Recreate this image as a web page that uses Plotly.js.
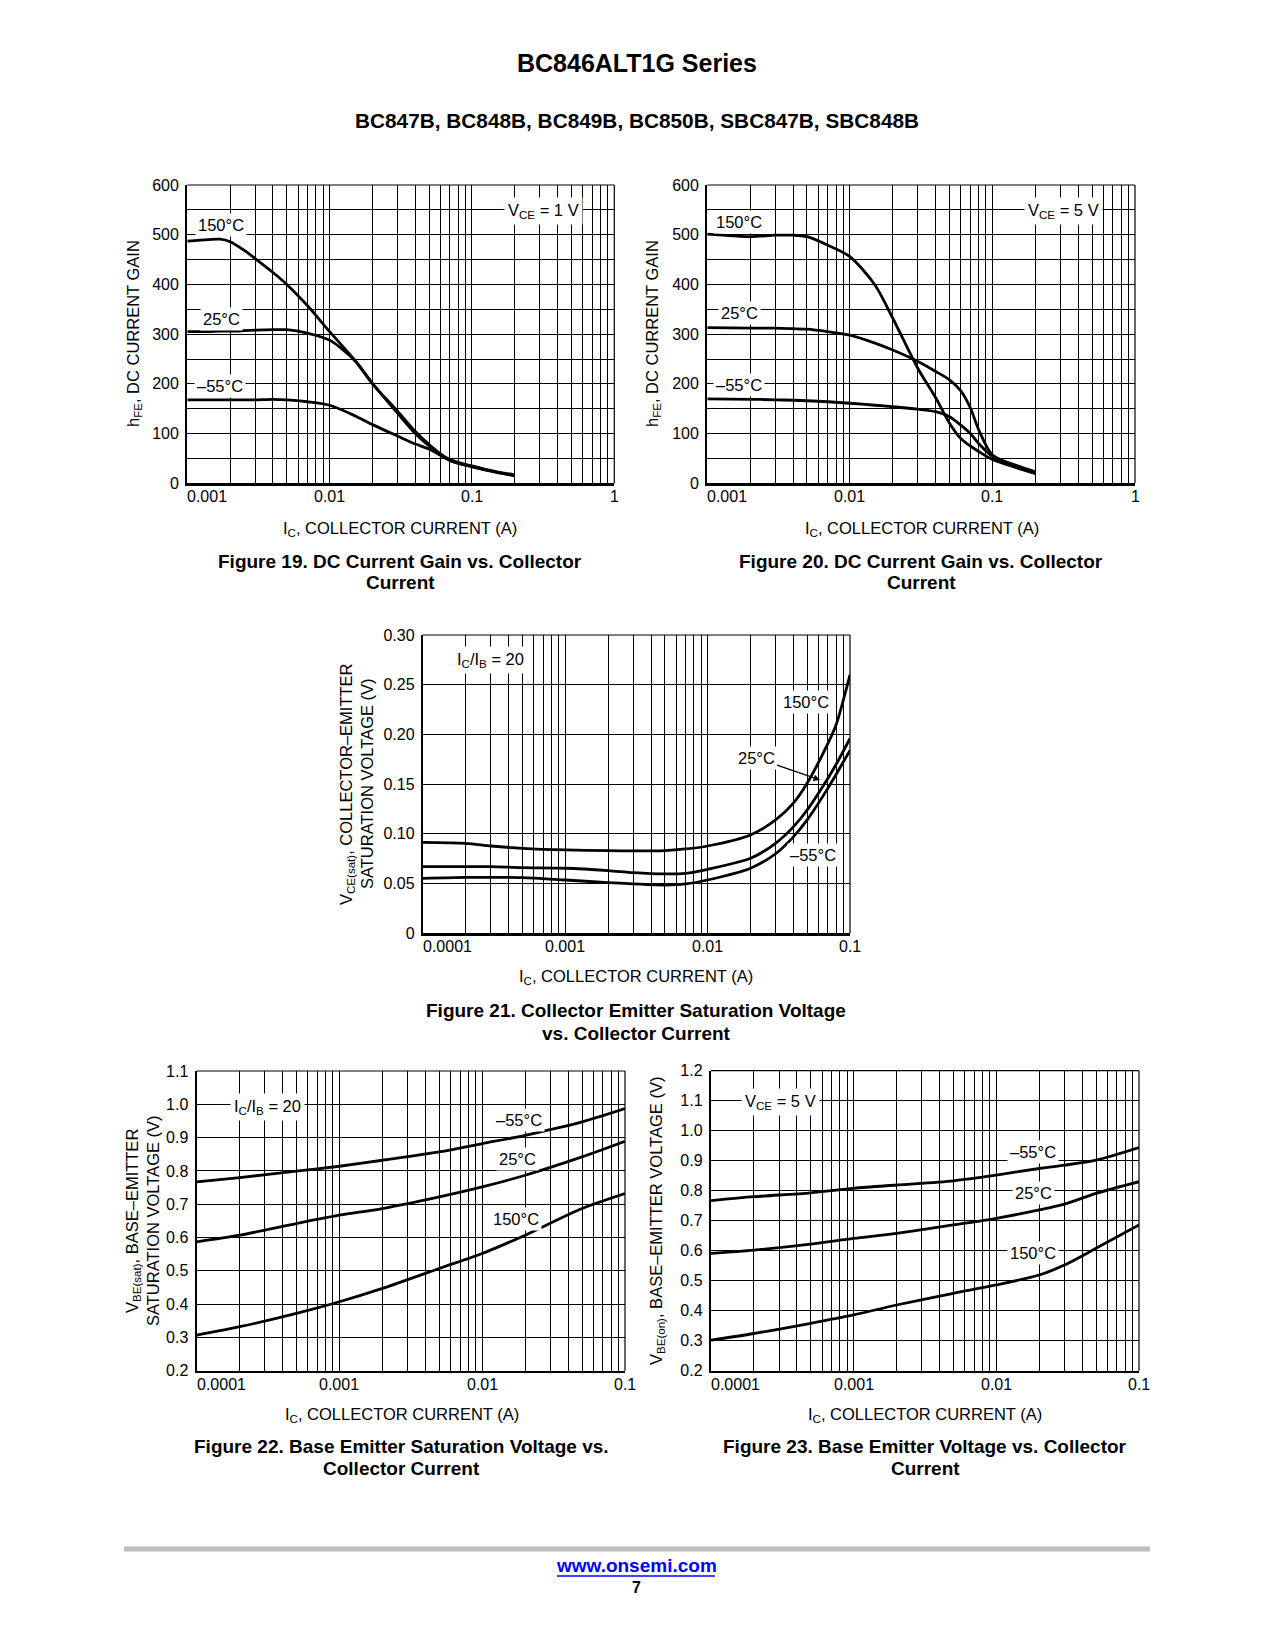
<!DOCTYPE html>
<html>
<head>
<meta charset="utf-8">
<script src="https://cdn.plot.ly/plotly-3.0.1.min.js"></script>
<style>
html,body{margin:0;padding:0;background:#fff;}
#chart{width:1275px;height:1650px;}
</style>
</head>
<body>
<div id="chart"></div>
<script>
// ---------------- DATA ----------------
// Figure 19: hFE vs IC, VCE = 1 V
const fig19_ic = [0.001,0.0014,0.0017,0.002,0.0025,0.003,0.004,0.005,0.007,0.01,0.015,0.02,0.03,0.04,0.05,0.07,0.1,0.15,0.2];
const fig19_150C = [487,490,491,486,469,452,424,400,357,305,248,201,141,100,75,48,35,23,17];
const fig19_25C  = [305,305,306,306,307,308,309,309,302,288,247,200,145,104,78,46,34,22,15];
const fig19_m55C = [168,168,168,168,168,168,169,168,164,157,136,118,95,79,69,46,33,22,16];

// Figure 20: hFE vs IC, VCE = 5 V
const fig20_ic = [0.001,0.002,0.003,0.004,0.005,0.007,0.01,0.015,0.02,0.03,0.04,0.05,0.06,0.07,0.08,0.1,0.15,0.2];
const fig20_150C = [501,496,499,499,496,479,456,399,332,231,172,121,90,75,64,48,31,20];
const fig20_25C  = [313,312,312,311,310,305,298,282,268,245,225,208,186,152,108,57,35,23];
const fig20_m55C = [170,169,168,167,166,164,161,157,154,149,144,134,117,100,80,54,31,20];

// Figure 21: VCE(sat) vs IC, IC/IB = 20
const fig21_ic = [0.0001,0.0002,0.0003,0.0005,0.001,0.002,0.003,0.005,0.007,0.01,0.02,0.03,0.04,0.05,0.07,0.08,0.1];
const fig21_150C = [0.0915,0.0905,0.0878,0.0855,0.0838,0.0831,0.0828,0.0831,0.0848,0.0878,0.0989,0.114,0.131,0.151,0.191,0.21,0.26];
const fig21_25C  = [0.067,0.067,0.067,0.066,0.0654,0.063,0.061,0.0597,0.0603,0.0644,0.0754,0.0905,0.107,0.124,0.156,0.170,0.196];
const fig21_m55C = [0.0553,0.0563,0.0563,0.056,0.0536,0.051,0.0498,0.0486,0.0496,0.0536,0.0654,0.080,0.097,0.114,0.146,0.160,0.184];

// Figure 22: VBE(sat) vs IC, IC/IB = 20
const fig22_ic = [0.0001,0.0002,0.0005,0.001,0.002,0.005,0.01,0.02,0.05,0.1];
const fig22_m55C = [0.767,0.78,0.799,0.814,0.832,0.857,0.882,0.907,0.947,0.987];
const fig22_25C  = [0.587,0.607,0.642,0.667,0.687,0.722,0.752,0.787,0.842,0.889];
const fig22_150C = [0.307,0.332,0.372,0.407,0.447,0.507,0.552,0.607,0.687,0.732];

// Figure 23: VBE(on) vs IC, VCE = 5 V
const fig23_ic = [0.0001,0.0002,0.0005,0.001,0.002,0.005,0.01,0.02,0.03,0.05,0.1];
const fig23_m55C = [0.767,0.78,0.793,0.808,0.819,0.833,0.852,0.874,0.885,0.902,0.944];
const fig23_25C  = [0.591,0.602,0.622,0.641,0.658,0.686,0.708,0.736,0.755,0.791,0.83];
const fig23_150C = [0.302,0.324,0.358,0.386,0.419,0.458,0.486,0.519,0.552,0.608,0.686];

// Tick labels
const xTicks_1mA = [0.001,0.01,0.1,1];
const xLabels_1mA = ['0.001','0.01','0.1','1'];
const xTicks_100uA = [0.0001,0.001,0.01,0.1];
const xLabels_100uA = ['0.0001','0.001','0.01','0.1'];
const yLabels_hfe = ['0','100','200','300','400','500','600'];
const yLabels_vcesat = ['0','0.05','0.10','0.15','0.20','0.25','0.30'];
const yLabels_vbesat = ['0.2','0.3','0.4','0.5','0.6','0.7','0.8','0.9','1.0','1.1'];
const yLabels_vbeon = ['0.2','0.3','0.4','0.5','0.6','0.7','0.8','0.9','1.0','1.1','1.2'];

// ---------------- LAYOUT HELPERS ----------------
const W = 1275, H = 1650;
const FONT = 'Liberation Sans, Arial, Helvetica, sans-serif';
const TICK = 16;
const px = p => p / W;
const py = p => 1 - p / H;

function logGrid(lo, hi){
  const v = [];
  for (let e = Math.round(Math.log10(lo)); e < Math.round(Math.log10(hi)); e++){
    for (let m = 1; m <= 9; m++) v.push(m * Math.pow(10, e));
  }
  v.push(hi);
  return v;
}

const panels = [
  {box:[187.3,614.3,185,483.3], xr:[0.001,1], yr:[0,600], ystep:50, ylab:yLabels_hfe, ylabStep:100, xmaj:xTicks_1mA, xlab:xLabels_1mA},
  {box:[707.3,1135,185,483.3], xr:[0.001,1], yr:[0,600], ystep:50, ylab:yLabels_hfe, ylabStep:100, xmaj:xTicks_1mA, xlab:xLabels_1mA},
  {box:[423,850,635,933.3], xr:[0.0001,0.1], yr:[0,0.30], ystep:0.05, ylab:yLabels_vcesat, ylabStep:0.05, xmaj:xTicks_100uA, xlab:xLabels_100uA},
  {box:[196.7,625,1071,1370.7], xr:[0.0001,0.1], yr:[0.2,1.1], ystep:0.1, ylab:yLabels_vbesat, ylabStep:0.1, xmaj:xTicks_100uA, xlab:xLabels_100uA},
  {box:[711,1139,1070.7,1370.7], xr:[0.0001,0.1], yr:[0.2,1.2], ystep:0.1, ylab:yLabels_vbeon, ylabStep:0.1, xmaj:xTicks_100uA, xlab:xLabels_100uA}
];

const layout = {
  width: W, height: H,
  margin: {l:0, r:0, t:0, b:0},
  paper_bgcolor: '#ffffff', plot_bgcolor: '#ffffff',
  showlegend: false,
  font: {family: FONT, color: '#000', size: 15},
  annotations: [], shapes: []
};

panels.forEach((p, i) => {
  const n = i === 0 ? '' : String(i + 1);
  const [x0, x1, y0, y1] = p.box;
  const xv = logGrid(p.xr[0], p.xr[1]);
  const yv = [];
  const nY = Math.round((p.yr[1] - p.yr[0]) / p.ystep);
  for (let k = 0; k <= nY; k++) yv.push(+(p.yr[0] + k * p.ystep).toFixed(4));
  const yt = yv.map(v => {
    const idx = Math.round((v - p.yr[0]) / p.ylabStep);
    return Math.abs(p.yr[0] + idx * p.ylabStep - v) < 1e-6 ? p.ylab[idx] : '';
  });
  layout['xaxis' + n] = {
    type: 'log', domain: [px(x0), px(x1)],
    range: [Math.log10(p.xr[0]), Math.log10(p.xr[1])],
    anchor: 'y' + n, tickmode: 'array', tickvals: xv,
    showticklabels: false, ticks: '',
    showgrid: true, gridcolor: '#000', gridwidth: 1,
    showline: true, linecolor: '#000', linewidth: 2.2,
    zeroline: false, fixedrange: true
  };
  layout['yaxis' + n] = {
    domain: [py(y1), py(y0)], range: p.yr,
    anchor: 'x' + n, tickmode: 'array', tickvals: yv, ticktext: yt,
    ticks: '', ticklabelstandoff: 3,
    showgrid: true, gridcolor: '#000', gridwidth: 1,
    showline: true, linecolor: '#000', linewidth: 2.2,
    zeroline: false, fixedrange: true,
    tickfont: {family: FONT, size: TICK, color: '#000'}
  };
  // top and right border
  layout.shapes.push({type:'line', xref:'x'+n+' domain', yref:'y'+n+' domain', x0:0, x1:1, y0:1, y1:1, line:{color:'#000', width:1.2}});
  layout.shapes.push({type:'line', xref:'x'+n+' domain', yref:'y'+n+' domain', x0:1, x1:1, y0:0, y1:1, line:{color:'#000', width:1.2}});
  // x tick labels (first one left-aligned at axis start, others centred on their gridline)
  p.xmaj.forEach((v, k) => {
    const a = {yref:'paper', y:py(y1 + 13.5), yanchor:'middle', text:p.xlab[k], showarrow:false,
      font:{family:FONT, size:TICK, color:'#000'}};
    if (k === 0) { a.xref = 'paper'; a.x = px(x0 - 2); a.xanchor = 'left'; }
    else { a.xref = 'x' + n; a.x = Math.log10(v); a.xanchor = 'center'; }
    layout.annotations.push(a);
  });
});

function lineTrace(x, y, n){
  return {x:x, y:y, xaxis:'x'+n, yaxis:'y'+n, mode:'lines', type:'scatter',
    line:{color:'#000', width:2.8, shape:'spline', smoothing:0.8}, hoverinfo:'skip'};
}
const traces = [
  lineTrace(fig19_ic, fig19_150C, ''), lineTrace(fig19_ic, fig19_25C, ''), lineTrace(fig19_ic, fig19_m55C, ''),
  lineTrace(fig20_ic, fig20_150C, '2'), lineTrace(fig20_ic, fig20_25C, '2'), lineTrace(fig20_ic, fig20_m55C, '2'),
  lineTrace(fig21_ic, fig21_150C, '3'), lineTrace(fig21_ic, fig21_25C, '3'), lineTrace(fig21_ic, fig21_m55C, '3'),
  lineTrace(fig22_ic, fig22_m55C, '4'), lineTrace(fig22_ic, fig22_25C, '4'), lineTrace(fig22_ic, fig22_150C, '4'),
  lineTrace(fig23_ic, fig23_m55C, '5'), lineTrace(fig23_ic, fig23_25C, '5'), lineTrace(fig23_ic, fig23_150C, '5')
];

// text helper (pixel coords on page)
function txt(x, y, text, opts){
  opts = opts || {};
  const a = {xref:'paper', yref:'paper', x:px(x), y:py(y), text:text, showarrow:false,
    xanchor: opts.xanchor || 'center', yanchor: opts.yanchor || 'middle',
    font:{family:FONT, size:opts.size || 15, color:opts.color || '#000'}};
  if (opts.bg) { a.bgcolor = '#fff'; a.borderpad = opts.pad || 2; }
  if (opts.angle !== undefined) a.textangle = opts.angle;
  layout.annotations.push(a);
}

// page headings
txt(637, 63, '<b>BC846ALT1G Series</b>', {size:25});
txt(637, 120, '<b>BC847B, BC848B, BC849B, BC850B, SBC847B, SBC848B</b>', {size:20.8});

// in-plot labels
const LBL = 16.5;
txt(543, 211, 'V<sub>CE</sub> = 1 V', {bg:true, pad:3, size:LBL});
txt(221, 225, '150°C', {bg:true, size:LBL});
txt(221, 319, '25°C', {bg:true, size:LBL});
txt(220, 386, '–55°C', {bg:true, size:LBL});

txt(1063, 211, 'V<sub>CE</sub> = 5 V', {bg:true, pad:3, size:LBL});
txt(739, 222, '150°C', {bg:true, size:LBL});
txt(739, 313, '25°C', {bg:true, size:LBL});
txt(739, 385, '–55°C', {bg:true, size:LBL});

txt(491, 660, 'I<sub>C</sub>/I<sub>B</sub> = 20', {bg:true, pad:3, size:LBL});
txt(806, 702, '150°C', {bg:true, size:LBL});
txt(813, 855, '–55°C', {bg:true, size:LBL});
layout.annotations.push({xref:'paper', yref:'paper', x:px(820), y:py(780), ax:-64, ay:-22,
  text:'25°C', showarrow:true, arrowhead:2, arrowsize:1, arrowwidth:1.3, arrowcolor:'#000',
  bgcolor:'#fff', borderpad:2, font:{family:FONT, size:LBL, color:'#000'}});

txt(267, 1107, 'I<sub>C</sub>/I<sub>B</sub> = 20', {bg:true, pad:3, size:LBL});
txt(519, 1120, '–55°C', {bg:true, size:LBL});
txt(517, 1159, '25°C', {bg:true, size:LBL});
txt(516, 1219, '150°C', {bg:true, size:LBL});

txt(780, 1102, 'V<sub>CE</sub> = 5 V', {bg:true, pad:3, size:LBL});
txt(1033, 1152, '–55°C', {bg:true, size:LBL});
txt(1033, 1193, '25°C', {bg:true, size:LBL});
txt(1033, 1253, '150°C', {bg:true, size:LBL});

// axis titles
const AX = 16.5;
const xTitle = 'I<sub>C</sub>, COLLECTOR CURRENT (A)';
txt(400, 529, xTitle, {size:AX});
txt(922, 529, xTitle, {size:AX});
txt(636, 977, xTitle, {size:AX});
txt(402, 1415, xTitle, {size:AX});
txt(925, 1415, xTitle, {size:AX});

txt(134, 334, 'h<sub>FE</sub>, DC CURRENT GAIN', {size:AX, angle:-90});
txt(653, 334, 'h<sub>FE</sub>, DC CURRENT GAIN', {size:AX, angle:-90});
txt(347, 784, 'V<sub>CE(sat)</sub>, COLLECTOR–EMITTER', {size:AX, angle:-90});
txt(367, 784, 'SATURATION VOLTAGE (V)', {size:AX, angle:-90});
txt(133, 1221, 'V<sub>BE(sat)</sub>, BASE–EMITTER', {size:AX, angle:-90});
txt(153, 1221, 'SATURATION VOLTAGE (V)', {size:AX, angle:-90});
txt(657, 1221, 'V<sub>BE(on)</sub>, BASE–EMITTER VOLTAGE (V)', {size:AX, angle:-90});

// captions
const cap = 19;
txt(400, 561, '<b>Figure 19. DC Current Gain vs. Collector</b>', {size:cap});
txt(400, 582, '<b>Current</b>', {size:cap});
txt(921, 561, '<b>Figure 20. DC Current Gain vs. Collector</b>', {size:cap});
txt(921, 582, '<b>Current</b>', {size:cap});
txt(636, 1011, '<b>Figure 21. Collector Emitter Saturation Voltage</b>', {size:cap});
txt(636, 1033, '<b>vs. Collector Current</b>', {size:cap});
txt(401, 1446, '<b>Figure 22. Base Emitter Saturation Voltage vs.</b>', {size:cap});
txt(401, 1468, '<b>Collector Current</b>', {size:cap});
txt(925, 1446, '<b>Figure 23. Base Emitter Voltage vs. Collector</b>', {size:cap});
txt(925, 1468, '<b>Current</b>', {size:cap});

// footer
layout.shapes.push({type:'line', xref:'paper', yref:'paper', x0:px(124), x1:px(1150), y0:py(1549), y1:py(1549),
  line:{color:'#bfbfbf', width:5}});
txt(636, 1565, '<b>www.onsemi.com</b>', {size:19, color:'#0000ff'});
layout.shapes.push({type:'line', xref:'paper', yref:'paper', x0:px(557), x1:px(715), y0:py(1576), y1:py(1576),
  line:{color:'#0000ff', width:1.5}});
txt(636, 1587, '<b>7</b>', {size:16});

Plotly.newPlot('chart', traces, layout, {staticPlot:true, displayModeBar:false});
</script>
</body>
</html>
